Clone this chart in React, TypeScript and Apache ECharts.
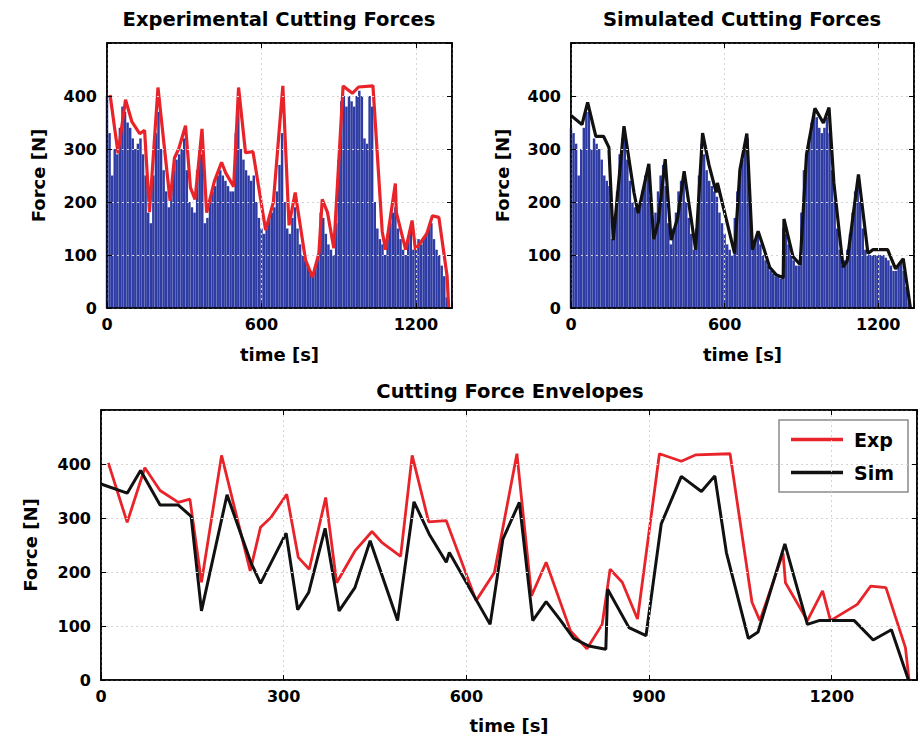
import React, { useEffect, useRef } from "react";
import * as echarts from "echarts";

// ---- data ----
const barTime = [
  0, 10, 20, 30, 40, 50, 60, 70, 80, 90,
  100, 110, 120, 130, 140, 150, 160, 170, 180, 190,
  200, 210, 220, 230, 240, 250, 260, 270, 280, 290,
  300, 310, 320, 330, 340, 350, 360, 370, 380, 390,
  400, 410, 420, 430, 440, 450, 460, 470, 480, 490,
  500, 510, 520, 530, 540, 550, 560, 570, 580, 590,
  600, 610, 620, 630, 640, 650, 660, 670, 680, 690,
  700, 710, 720, 730, 740, 750, 760, 770, 780, 790,
  800, 810, 820, 830, 840, 850, 860, 870, 880, 890,
  900, 910, 920, 930, 940, 950, 960, 970, 980, 990,
  1000, 1010, 1020, 1030, 1040, 1050, 1060, 1070, 1080, 1090,
  1100, 1110, 1120, 1130, 1140, 1150, 1160, 1170, 1180, 1190,
  1200, 1210, 1220, 1230, 1240, 1250, 1260, 1270, 1280, 1290,
  1300, 1310, 1320,
];

const expBarForce = [
  400, 330, 250, 300, 290, 340, 380, 370, 350, 340,
  320, 300, 310, 320, 290, 250, 180, 160, 250, 330,
  370, 300, 260, 220, 190, 230, 260, 280, 290, 300,
  320, 260, 200, 190, 180, 260, 300, 290, 160, 170,
  200, 220, 230, 250, 260, 250, 240, 230, 220, 220,
  330, 380, 300, 280, 260, 250, 240, 250, 200, 170,
  150, 140, 150, 170, 180, 190, 220, 270, 330, 200,
  150, 140, 170, 190, 150, 120, 100, 90, 80, 70,
  60, 80, 100, 180, 170, 140, 120, 110, 100, 160,
  280, 390, 400, 380, 400, 390, 380, 400, 410, 400,
  320, 310, 400, 380, 200, 150, 130, 120, 100, 130,
  160, 180, 190, 150, 130, 110, 100, 130, 150, 110,
  120, 130, 120, 130, 140, 150, 160, 130, 110, 100,
  80, 60, 20,
];

const simBarForce = [
  340, 330, 310, 250, 300, 340, 370, 370, 300, 320,
  310, 300, 280, 250, 240, 230, 130, 160, 220, 290,
  320, 330, 280, 240, 200, 190, 180, 200, 220, 250,
  260, 210, 130, 180, 220, 250, 270, 230, 160, 120,
  150, 180, 220, 240, 250, 200, 170, 140, 110, 150,
  250, 310, 290, 260, 240, 230, 220, 210, 180, 160,
  140, 120, 110, 100, 170, 220, 260, 280, 300, 320,
  200, 120, 130, 140, 120, 100, 90, 80, 70, 65,
  60, 60, 55, 150, 140, 120, 100, 90, 80, 80,
  180, 260, 290, 320, 350, 370, 360, 340, 330, 340,
  360, 330, 260, 200, 150, 110, 80, 90, 110, 140,
  180, 220, 240, 200, 150, 110, 100, 100, 100, 100,
  100, 100, 100, 95, 90, 80, 70, 70, 80, 85,
  70, 40, 10,
];

const expEnvTime = [12, 43, 72, 97, 127, 146, 165, 198, 245, 262, 279, 305, 324, 342, 369, 387, 417, 445, 461, 492, 511, 538, 567, 616, 646, 683, 707, 731, 771, 798, 823, 836, 856, 881, 917, 953, 977, 1033, 1069, 1082, 1120, 1124, 1160, 1185, 1198, 1242, 1264, 1289, 1321, 1327];
const expEnvForce = [402, 292, 393, 351, 329, 335, 181, 416, 202, 283, 301, 344, 227, 205, 338, 180, 239, 275, 255, 229, 416, 293, 295, 147, 199, 419, 156, 218, 91, 58, 103, 205, 181, 113, 419, 405, 417, 419, 144, 110, 235, 180, 110, 165, 110, 140, 174, 171, 60, 0];

const simEnvTime = [0, 43, 65, 97, 127, 148, 165, 207, 246, 262, 304, 323, 341, 368, 391, 417, 442, 487, 514, 539, 567, 572, 639, 660, 687, 709, 731, 755, 776, 801, 829, 832, 867, 895, 920, 953, 986, 1008, 1027, 1063, 1079, 1123, 1160, 1179, 1237, 1268, 1298, 1326];
const simEnvForce = [363, 346, 388, 324, 324, 303, 128, 343, 218, 179, 272, 130, 162, 281, 128, 171, 258, 110, 330, 270, 218, 236, 103, 261, 329, 110, 145, 110, 77, 63, 57, 168, 97, 82, 289, 377, 349, 378, 236, 77, 89, 252, 103, 110, 110, 74, 93, 0];

const forceTicks = [0, 100, 200, 300, 400];
const topTimeTicks = [0, 600, 1200];
const bottomTimeTicks = [0, 300, 600, 900, 1200];

const titles = ["Experimental Cutting Forces", "Simulated Cutting Forces", "Cutting Force Envelopes"];

// ---- helpers ----
const FONT = "DejaVu Sans";
const BLUE = "#2d3ba2";
const RED = "#e8242a";
const BLACK = "#111111";
const T_MAX = 1340;
const F_MAX = 500;

const pair = (xs: number[], ys: number[]) => xs.map((x, i) => [x, ys[i]]);

const gridLine = { show: true, lineStyle: { color: "#d4d4d4", type: [2, 3] as any, width: 1 } };
const frameLine = { show: true, onZero: false, lineStyle: { color: "#000", width: 1.5 } };

function xAxes(gridIndex: number, interval: number, ticks: number[]) {
  return [
    {
      type: "value", gridIndex, min: 0, max: T_MAX, interval, position: "bottom", z: 10,
      name: "time [s]", nameLocation: "middle", nameGap: gridIndex === 2 ? 36 : 37,
      nameTextStyle: { fontFamily: FONT, fontWeight: "bold", fontSize: 18, color: "#000" },
      axisLine: frameLine,
      axisTick: { show: true, inside: true, length: 5, lineStyle: { color: "#000", width: 1 } },
      axisLabel: {
        fontFamily: FONT, fontWeight: "bold", fontSize: 16, color: "#000", margin: 8,
        formatter: (v: number) => (ticks.includes(v) ? String(v) : ""),
      },
      splitLine: gridLine,
    },
    {
      type: "value", gridIndex, min: 0, max: T_MAX, interval, position: "top", z: 10,
      axisLine: frameLine,
      axisTick: { show: true, inside: true, length: 5, lineStyle: { color: "#000", width: 1 } },
      axisLabel: { show: false },
      splitLine: { show: false },
    },
  ];
}

function yAxes(gridIndex: number) {
  return [
    {
      type: "value", gridIndex, min: 0, max: F_MAX, interval: 100, position: "left", z: 10,
      name: "Force [N]", nameLocation: "middle", nameGap: gridIndex === 2 ? 62 : 60, nameRotate: 90,
      nameTextStyle: { fontFamily: FONT, fontWeight: "bold", fontSize: 18, color: "#000" },
      axisLine: frameLine,
      axisTick: { show: true, inside: true, length: 5, lineStyle: { color: "#000", width: 1 } },
      axisLabel: {
        fontFamily: FONT, fontWeight: "bold", fontSize: 16, color: "#000", margin: 10,
        formatter: (v: number) => (forceTicks.includes(v) ? String(v) : ""),
      },
      splitLine: gridLine,
    },
    {
      type: "value", gridIndex, min: 0, max: F_MAX, interval: 100, position: "right", z: 10,
      axisLine: frameLine,
      axisTick: { show: true, inside: true, length: 5, lineStyle: { color: "#000", width: 1 } },
      axisLabel: { show: false },
      splitLine: { show: false },
    },
  ];
}

export default function App() {
  const ref = useRef<HTMLDivElement>(null);

  useEffect(() => {
    if (!ref.current) return;
    const chart = echarts.init(ref.current, null, { renderer: "svg" });

    const titleStyle = { fontFamily: FONT, fontWeight: "bold" as const, fontSize: 19.5, color: "#000" };

    const option: any = {
      animation: false,
      backgroundColor: "#ffffff",
      title: [
        { text: titles[0], left: 279, top: 9, textAlign: "center", textStyle: titleStyle, padding: 0 },
        { text: titles[1], left: 742, top: 9, textAlign: "center", textStyle: titleStyle, padding: 0 },
        { text: titles[2], left: 510, top: 381, textAlign: "center", textStyle: titleStyle, padding: 0 },
      ],
      legend: {
        data: ["Exp", "Sim"],
        orient: "vertical",
        left: 779,
        top: 420,
        padding: [10, 14, 10, 12],
        itemGap: 14,
        itemWidth: 52,
        itemHeight: 3.5,
        icon: "rect",
        backgroundColor: "#ffffff",
        borderColor: "#8a8a8a",
        borderWidth: 1.5,
        borderRadius: 0,
        textStyle: { fontFamily: FONT, fontWeight: "bold", fontSize: 19, color: "#000", padding: [0, 0, 0, 6] },
      },
      grid: [
        { left: 107, top: 43, width: 345, height: 265, show: true, borderColor: "#000", borderWidth: 1.5, backgroundColor: "transparent" },
        { left: 571, top: 43, width: 343, height: 265, show: true, borderColor: "#000", borderWidth: 1.5, backgroundColor: "transparent" },
        { left: 101, top: 410, width: 817, height: 270, show: true, borderColor: "#000", borderWidth: 1.5, backgroundColor: "transparent" },
      ],
      xAxis: [...xAxes(0, 600, topTimeTicks), ...xAxes(1, 600, topTimeTicks), ...xAxes(2, 300, bottomTimeTicks)],
      yAxis: [...yAxes(0), ...yAxes(1), ...yAxes(2)],
      series: [
        {
          name: "expBars", type: "bar", xAxisIndex: 0, yAxisIndex: 0,
          data: pair(barTime, expBarForce), barWidth: 2.45, itemStyle: { color: BLUE }, z: 1,
        },
        {
          name: "expEnvTop", type: "line", xAxisIndex: 0, yAxisIndex: 0,
          data: pair(expEnvTime, expEnvForce), symbol: "none",
          lineStyle: { color: RED, width: 3.2 }, z: 3,
        },
        {
          name: "simBars", type: "bar", xAxisIndex: 2, yAxisIndex: 2,
          data: pair(barTime, simBarForce), barWidth: 2.45, itemStyle: { color: BLUE }, z: 1,
        },
        {
          name: "simEnvTop", type: "line", xAxisIndex: 2, yAxisIndex: 2,
          data: pair(simEnvTime, simEnvForce), symbol: "none",
          lineStyle: { color: BLACK, width: 3.2 }, z: 3,
        },
        {
          name: "Exp", type: "line", xAxisIndex: 4, yAxisIndex: 4,
          data: pair(expEnvTime, expEnvForce), symbol: "none",
          itemStyle: { color: RED },
          lineStyle: { color: RED, width: 2.8 }, z: 3,
        },
        {
          name: "Sim", type: "line", xAxisIndex: 4, yAxisIndex: 4,
          data: pair(simEnvTime, simEnvForce), symbol: "none",
          itemStyle: { color: BLACK },
          lineStyle: { color: BLACK, width: 3 }, z: 4,
        },
      ],
    };

    chart.setOption(option);
    return () => chart.dispose();
  }, []);

  return (
    <div
      ref={ref}
      style={{ position: "absolute", left: 0, top: 0, width: 920, height: 745, background: "#fff" }}
    />
  );
}
